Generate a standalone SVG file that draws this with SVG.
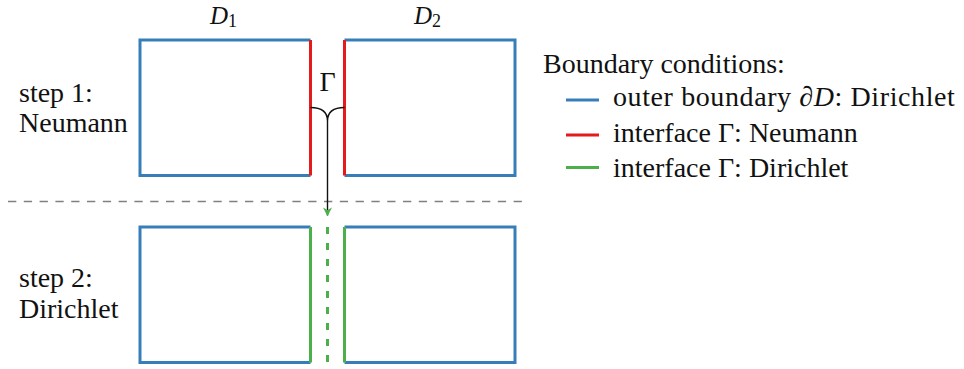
<svg xmlns="http://www.w3.org/2000/svg" width="964" height="369" viewBox="0 0 964 369">
<style>
.bl{stroke:#377eb8;stroke-width:3;fill:none}
.rd{stroke:#e41a1c;stroke-width:3;fill:none}
.gr{stroke:#4daf4a;stroke-width:3;fill:none}
</style>
<defs>
<marker id="ah" viewBox="0 0 10 10" refX="9" refY="5" markerWidth="9" markerHeight="9" markerUnits="userSpaceOnUse" orient="auto">
<path d="M0,0 L10,5 L0,10 L3,5 Z" fill="#4daf4a"/>
</marker>
</defs>
<rect width="964" height="369" fill="#fff"/>
<g id="domain1-step1">
<path class="bl" d="M310.5,40 H140 V175.5 H310.5"/>
<path class="rd" d="M310.5,40 V175.5"/>
</g>
<g id="domain2-step1">
<path class="bl" d="M344.5,40 H515 V175.5 H344.5"/>
<path class="rd" d="M344.5,40 V175.5"/>
</g>
<g id="domain1-step2">
<path class="bl" d="M310.5,227 H140 V362.5 H310.5"/>
<path class="gr" d="M310.5,227 V362.5"/>
</g>
<g id="domain2-step2">
<path class="bl" d="M344.5,227 H515 V362.5 H344.5"/>
<path class="gr" d="M344.5,227 V362.5"/>
</g>
<g id="interface-step2">
<path class="gr" d="M327.5,227 V362.5" stroke-dasharray="7,9"/>
</g>
<g id="connectors">
<path d="M8,201.5 H528" stroke="#808080" stroke-width="1.3" stroke-dasharray="8.3,7.5" fill="none"/>
<path d="M310.5,107.5 C320.5,107.5 327.5,111 327.5,121 C327.5,111 334.5,107.5 344.5,107.5" stroke="#111" stroke-width="1.4" fill="none"/>
<path d="M327.5,121 V215.5" stroke="#111" stroke-width="1.4" fill="none" marker-end="url(#ah)"/>
</g>
<g id="labels">
<text x="210" y="24" font-family="Liberation Serif" font-size="25" fill="#111"><tspan font-style="italic">D</tspan><tspan font-size="18" dy="3">1</tspan></text>
<text x="414" y="24" font-family="Liberation Serif" font-size="25" fill="#111"><tspan font-style="italic">D</tspan><tspan font-size="18" dy="3">2</tspan></text>
<text x="327.5" y="91" text-anchor="middle" font-family="Liberation Serif" font-size="28" fill="#111">Γ</text>
<text x="19" y="102" font-family="Liberation Serif" font-size="28" fill="#111">step 1:</text>
<text x="19" y="132" font-family="Liberation Serif" font-size="28" fill="#111">Neumann</text>
<text x="19" y="287" font-family="Liberation Serif" font-size="28" fill="#111">step 2:</text>
<text x="19" y="318" font-family="Liberation Serif" font-size="28" fill="#111">Dirichlet</text>
</g>
<g id="legend">
<text x="543" y="73" font-family="Liberation Serif" font-size="28" fill="#111">Boundary conditions:</text>
<path class="bl" d="M566,100 H599"/>
<text x="613" y="106" font-family="Liberation Serif" font-size="28" fill="#111" letter-spacing="0.6">outer boundary ∂<tspan font-style="italic">D</tspan>: Dirichlet</text>
<path class="rd" d="M566,135 H599"/>
<text x="613" y="142" font-family="Liberation Serif" font-size="28" fill="#111">interface Γ: Neumann</text>
<path class="gr" d="M566,167.5 H599"/>
<text x="613" y="177" font-family="Liberation Serif" font-size="28" fill="#111">interface Γ: Dirichlet</text>
</g>
</svg>
